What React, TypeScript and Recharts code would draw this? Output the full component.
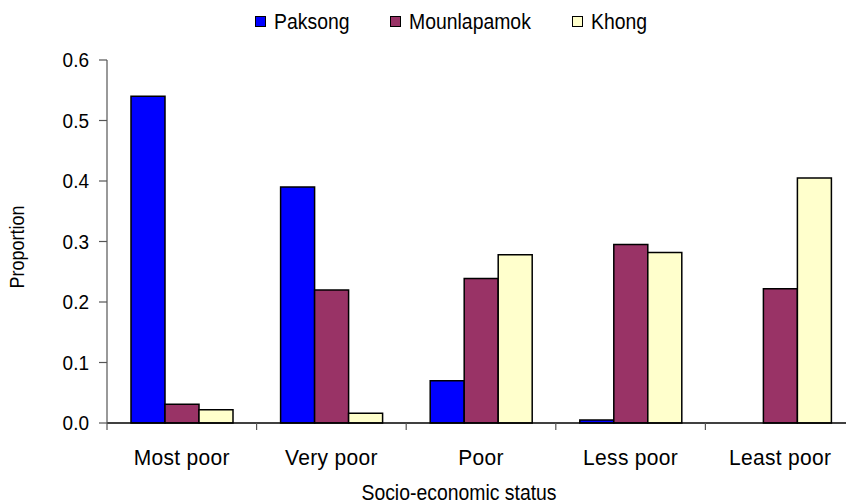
import React from 'react';
import { BarChart, Bar, XAxis, YAxis } from 'recharts';

const categories = ['Most poor', 'Very poor', 'Poor', 'Less poor', 'Least poor'];
const paksong = [0.54, 0.39, 0.07, 0.005, 0];
const mounlapamok = [0.031, 0.22, 0.239, 0.295, 0.222];
const khong = [0.022, 0.016, 0.278, 0.282, 0.405];
const yTicks = [0, 0.1, 0.2, 0.3, 0.4, 0.5, 0.6];

const seriesInfo = [
  { key: 'Paksong', color: '#0000FF' },
  { key: 'Mounlapamok', color: '#993366' },
  { key: 'Khong', color: '#FFFFCC' },
];

const data = categories.map((c, i) => ({
  name: c,
  Paksong: paksong[i],
  Mounlapamok: mounlapamok[i],
  Khong: khong[i],
}));

const FONT = '"Liberation Sans", Arial, Helvetica, sans-serif';
const CHART_W = 865;
const CHART_H = 504;
const MARGIN = { top: 60, right: 10, bottom: 31, left: 37 };
const Y_W = 70;
const PLOT_W = CHART_W - MARGIN.left - MARGIN.right - Y_W;
const BAND = PLOT_W / categories.length;

const CategoryTick = (props: any) => {
  const { x, y, payload, index } = props;
  const left = x - BAND / 2;
  return (
    <g>
      <line x1={left} x2={left} y1={y - 8} y2={y - 1} stroke="#555" strokeWidth={1.2} />
      {index === categories.length - 1 && (
        <line x1={x + BAND / 2} x2={x + BAND / 2} y1={y - 8} y2={y - 1} stroke="#555" strokeWidth={1.2} />
      )}
      <text
        x={0}
        y={0}
        transform={`translate(${x}, ${y + 34}) scale(1.05, 1.1)`}
        textAnchor="middle"
        fontSize={20}
        letterSpacing={0.3}
        fill="#000"
        fontFamily={FONT}
      >
        {payload.value}
      </text>
    </g>
  );
};

const YTick = (props: any) => {
  const { x, y, payload } = props;
  return (
    <text
      x={0}
      y={0}
      transform={`translate(${x}, ${y}) scale(1, 1.1)`}
      textAnchor="end"
      dominantBaseline="central"
      fontSize={19}
      fill="#000"
      fontFamily={FONT}
    >
      {Number(payload.value).toFixed(1)}
    </text>
  );
};

export default function App() {
  return (
    <div style={{ position: 'absolute', left: 0, top: 0, width: 846, height: 504, overflow: 'hidden', background: '#fff' }}>
      <div
        style={{
          position: 'absolute',
          top: 10,
          left: 255,
          display: 'flex',
          alignItems: 'center',
          fontFamily: FONT,
          fontSize: 20,
          color: '#000',
          whiteSpace: 'nowrap',
          zIndex: 2,
        }}
      >
        {seriesInfo.map((s, i) => (
          <div key={s.key} style={{ display: 'flex', alignItems: 'center', marginRight: i < 2 ? 38 : 0 }}>
            <span
              style={{
                display: 'inline-block',
                width: 9,
                height: 9,
                background: s.color,
                border: '1.5px solid #000',
                marginRight: 8,
              }}
            />
            <span style={{ display: 'inline-block', transform: 'scale(0.97, 1.1)', transformOrigin: 'left center' }}>{s.key}</span>
          </div>
        ))}
      </div>
      <BarChart
        width={CHART_W}
        height={CHART_H}
        data={data}
        margin={MARGIN}
        barCategoryGap={24}
        barGap={0}
      >
        <XAxis
          dataKey="name"
          tickLine={false}
          axisLine={{ stroke: '#000', strokeWidth: 1.5 }}
          tick={<CategoryTick />}
          interval={0}
          height={50}
          label={{
            content: (p: any) => {
              const vb = p.viewBox;
              return (
                <text
                  x={0}
                  y={0}
                  transform={`translate(${vb.x + vb.width / 2 - 22}, 500) scale(0.97, 1.1)`}
                  textAnchor="middle"
                  fontSize={20}
                  fill="#000"
                  fontFamily={FONT}
                >
                  Socio-economic status
                </text>
              );
            },
          }}
        />
        <YAxis
          width={Y_W}
          domain={[0, 0.6]}
          ticks={yTicks}
          interval={0}
          tickSize={8}
          tickMargin={10}
          tickLine={{ stroke: '#555', strokeWidth: 1.2 }}
          axisLine={{ stroke: '#555', strokeWidth: 1.2 }}
          tick={<YTick />}
          label={{
            content: () => (
              <text
                x={0}
                y={0}
                transform="translate(24, 247) rotate(-90) scale(1, 1.1)"
                textAnchor="middle"
                fontSize={18}
                fill="#000"
                fontFamily={FONT}
              >
                Proportion
              </text>
            ),
          }}
        />
        {seriesInfo.map((s) => (
          <Bar
            key={s.key}
            dataKey={s.key}
            fill={s.color}
            stroke="#000"
            strokeWidth={1.5}
            isAnimationActive={false}
          />
        ))}
      </BarChart>
    </div>
  );
}
